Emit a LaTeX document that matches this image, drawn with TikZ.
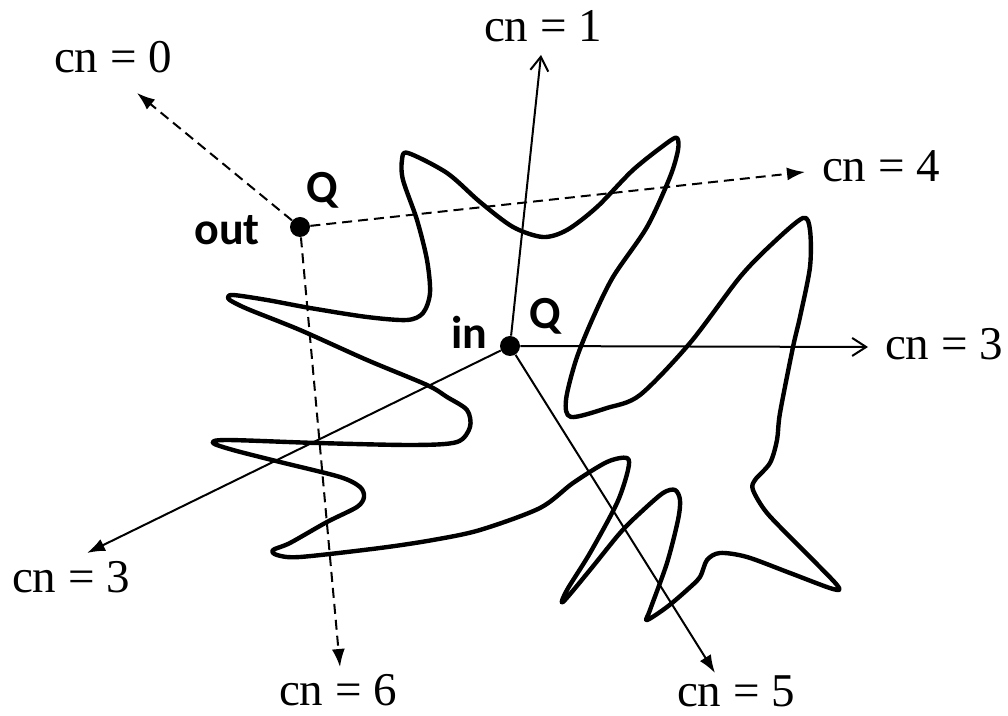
\documentclass[tikz,border=0pt]{standalone}
\usepackage{fontspec}
\setmainfont{Liberation Serif}
\newfontfamily\lblfont{Carlito}
\usetikzlibrary{arrows.meta}
\begin{document}
\begin{tikzpicture}[x=0.5pt,y=-0.5pt,
  curve/.style={line width=2.2pt, line join=round},
  ray/.style={line width=1pt},
  dray/.style={line width=1pt, dash pattern=on 5pt off 3pt},
  fhead/.style={-{Latex[length=9pt,width=6.5pt]}},
  ohead/.style={-{Straight Barb[length=7pt,width=9pt,line width=1pt]}},
  dot/.style={circle, fill=black, inner sep=0pt, minimum size=10pt},
  cnlab/.style={font=\fontsize{23.5}{28}\selectfont, inner sep=0pt, anchor=base},
  blab/.style={font=\lblfont\bfseries\fontsize{23}{27}\selectfont, inner sep=0pt, anchor=base}]
\useasboundingbox (0,0) rectangle (1008,716);
\fill[white] (0,0) rectangle (1008,716);

% closed curve
\draw[curve] plot[smooth cycle, tension=0.5] coordinates {
 (408,153) (447,173) (480,202) (513,227) (543,237) (567,230) (597,207) (633,170) (667,143) (677,138)
 (678,150) (670,177) (647,227) (613,277) (592,320) (576,360) (566,400) (571,417)
 (607,408) (640,395) (690,343) (740,277) (773,243) (803,218) (810,230) (810,267) (800,317)
 (793,347) (780,413) (777,440) (770,463) (755,480) (753,490) (767,513) (800,547) (837,585)
 (833,589) (790,573) (747,557) (720,553) (707,560) (700,577) (687,590) (667,607) (647,620)
 (650,610) (667,563) (678,520) (680,500) (675,490) (663,493) (640,513) (620,533) (590,570)
 (563,602) (567,590) (590,553) (617,503) (628,470) (627,458) (607,462) (573,483) (540,508)
 (480,530) (433,540) (380,548) (300,557) (277,555) (273,550) (290,543) (327,522) (357,507)
 (364,497) (360,487) (340,477) (280,462) (233,450) (213,443) (227,440) (317,443) (413,445)
 (457,442) (470,427) (467,410) (447,397) (427,385) (367,360) (300,330) (250,310) (233,302)
 (228,298) (233,295) (267,300) (310,308) (367,317) (407,320) (423,313) (430,293) (427,260)
 (417,220) (403,180) (402,160)};

% points
\node[dot] (out) at (300,227) {};
\node[dot] (in) at (510,346) {};
\node[blab] (qout) at (322,203) {Q};
\node[blab] (outlab) at (227,245) {out};
\node[blab] (inlab) at (469,349) {in};
\node[blab] (qin) at (545,329) {Q};

% arrow ends
\coordinate (e0) at (137,93);
\coordinate (e4) at (805,172);
\coordinate (e6) at (340,667);
\coordinate (e1) at (541,55);
\coordinate (e3r) at (868,347);
\coordinate (e3l) at (87,553);
\coordinate (e5) at (715,673);

% connectors from out
\draw[dray, fhead] (out) -- (e0);
\draw[dray, fhead] (out) -- (e4);
\draw[dray, fhead] (out) -- (e6);
% connectors from in
\draw[ray, ohead] (in) -- (e1);
\draw[ray, ohead] (in) -- (e3r);
\draw[ray, fhead] (in) -- (e3l);
\draw[ray, fhead] (in) -- (e5);

% labels
\node[cnlab] (l0) at (113,73) {cn = 0};
\node[cnlab] (l1) at (543,42) {cn = 1};
\node[cnlab] (l4) at (881,182) {cn = 4};
\node[cnlab] (l3r) at (944,360) {cn = 3};
\node[cnlab] (l3l) at (71,593) {cn = 3};
\node[cnlab] (l6) at (338,706) {cn = 6};
\node[cnlab] (l5) at (736,707) {cn = 5};
\end{tikzpicture}
\end{document}
